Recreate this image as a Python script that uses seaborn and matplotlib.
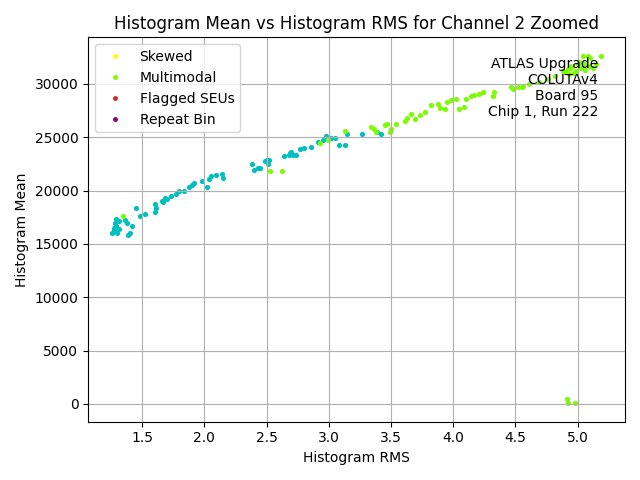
import matplotlib
matplotlib.use("Agg")
import matplotlib.pyplot as plt
from matplotlib.lines import Line2D
import seaborn as sns
import pandas as pd

# Normal (non-flagged) bins, drawn in cyan
normal_rms = [1.26, 1.27, 1.28, 1.29, 1.27, 1.30, 1.31, 1.36, 1.38, 1.42, 1.40, 1.39,
              1.45, 1.48, 1.52, 1.60, 1.61, 1.60, 1.66, 1.68, 1.70, 1.73, 1.77, 1.80,
              1.84, 1.88, 1.92, 1.98, 2.02, 2.04, 2.05, 2.09, 2.14, 2.15,
              2.385, 2.40, 2.43, 2.45, 2.49, 2.52, 2.51, 2.64, 2.68, 2.70, 2.71, 2.74,
              2.77, 2.80, 2.86, 2.91, 2.95, 2.98, 3.02, 3.05, 3.08, 3.13, 3.15, 3.27,
              3.39, 3.42, 1.29, 1.31, 1.67, 1.90, 2.69, 2.50]
normal_mean = [16050, 16500, 17000, 17350, 16300, 16050, 17150, 17250, 17000, 16700, 16050, 15800,
               18400, 17600, 17800, 18000, 18400, 18750, 19000, 19300, 19200, 19500, 19650, 19950,
               19950, 20300, 20700, 20900, 20300, 21050, 21350, 21450, 21550, 21150,
               22480, 21950, 22100, 22100, 22730, 22880, 22480, 23200, 23350, 23650, 23350, 23350,
               23900, 24030, 24100, 24520, 24740, 25140, 24890, 24950, 24280, 24280, 25260, 25260,
               25500, 25350, 16700, 16400, 18900, 20500, 23500, 22900]

# Multimodal bins
multi_rms = [1.35, 2.53, 2.62, 2.93, 2.99, 3.13, 3.34, 3.36, 3.38, 3.45, 3.47, 3.49,
             3.50, 3.54, 3.61, 3.63, 3.66, 3.69, 3.73, 3.77, 3.82, 3.88, 3.89, 3.93,
             3.95, 3.98, 4.02, 4.05, 4.09, 4.10, 4.14, 4.17, 4.21, 4.24, 4.32, 4.33,
             4.46, 4.52, 4.56, 4.61, 4.69, 4.76, 4.82, 4.88, 4.92, 4.95, 4.93, 4.99,
             5.03, 5.04, 5.08, 5.05, 5.09, 5.19, 5.10, 5.15, 5.01, 5.06,
             4.94, 4.97, 5.00, 5.12, 4.90, 4.55, 4.48,
             4.91, 4.92, 4.98]
multi_mean = [17600, 21800, 21800, 24430, 24740, 25580, 25970, 25820, 25500, 26130, 26280, 25500,
              25820, 26280, 26500, 26810, 27200, 26750, 27060, 27370, 27990, 28140, 27740, 27670,
              28290, 28450, 28600, 27670, 27830, 28600, 28850, 28970, 29060, 29220, 28910, 29220,
              29680, 29680, 29840, 29990, 30210, 30460, 30760, 31230, 31380, 31540, 30920, 31230,
              31540, 32620, 32620, 31850, 31690, 32620, 32470, 31850, 32100, 31300,
              31700, 31000, 31900, 31500, 31100, 29700, 29500,
              460, 90, 90]

legend_labels = ["Skewed", "Multimodal", "Flagged SEUs", "Repeat Bin"]
legend_colors = ["yellow", "lawngreen", "tab:red", "purple"]

info_text = "ATLAS Upgrade\nCOLUTAv4\nBoard 95\nChip 1, Run 222"

normal = pd.DataFrame({"rms": normal_rms, "mean": normal_mean})
multi = pd.DataFrame({"rms": multi_rms, "mean": multi_mean})

fig, ax = plt.subplots(figsize=(6.4, 4.8), dpi=100)
sns.scatterplot(data=normal, x="rms", y="mean", color="c", s=14, linewidth=0, ax=ax, legend=False)
sns.scatterplot(data=multi, x="rms", y="mean", color="lawngreen", s=14, linewidth=0, ax=ax, legend=False)

handles = [Line2D([], [], marker="o", linestyle="", color=c, markersize=2.5) for c in legend_colors]
ax.legend(handles, legend_labels, loc="upper left")

ax.text(0.95, 0.95, info_text, transform=ax.transAxes, ha="right", va="top", fontsize=10)

ax.set_xlim(1.066, 5.38)
ax.set_ylim(-1670, 34370)
ax.set_title("Histogram Mean vs Histogram RMS for Channel 2 Zoomed")
ax.set_xlabel("Histogram RMS")
ax.set_ylabel("Histogram Mean")
ax.grid(True)

fig.tight_layout()
fig.savefig("out.png")
